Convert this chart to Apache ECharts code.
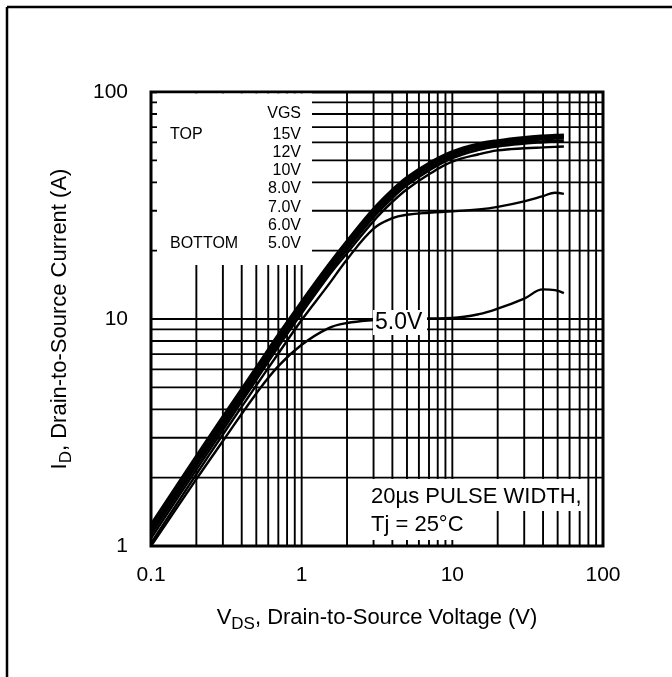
<!DOCTYPE html>
<html>
<head>
<meta charset="utf-8">
<script src="https://cdn.jsdelivr.net/npm/echarts@6/dist/echarts.min.js"></script>
<style>
  html, body { margin: 0; padding: 0; background: #fff; }
  #chart { width: 672px; height: 677px; }
</style>
</head>
<body>
<div id="chart"></div>
<script>
// VDS sample points (V) shared by all curves
const vds = [0.1, 0.2, 0.3, 0.5, 0.7, 1, 1.5, 2, 3, 4, 5, 7, 10, 15, 20, 30, 40, 48, 55];
// ID (A) per VGS
const id15 = [1.24, 2.48, 3.7, 6.1, 8.5, 11.9, 17.2, 22.0, 30.5, 37.0, 42.0, 48.5, 54.5, 59.0, 61.0, 63.0, 64.0, 64.4, 64.6];
const id12 = [1.21, 2.42, 3.6, 5.95, 8.3, 11.6, 16.9, 21.5, 29.8, 36.2, 41.1, 47.7, 53.6, 58.2, 60.2, 62.2, 63.2, 63.6, 63.8];
const id10 = [1.17, 2.35, 3.50, 5.8, 8.1, 11.4, 16.6, 21.0, 29.1, 35.4, 40.2, 46.8, 52.7, 57.3, 59.3, 61.2, 62.2, 62.6, 62.8];
const id8  = [1.13, 2.27, 3.38, 5.6, 7.85, 11.0, 16.0, 20.3, 28.2, 34.3, 39.0, 45.3, 51.3, 55.8, 57.8, 59.5, 60.3, 60.7, 61.0];
const id7  = [1.08, 2.17, 3.24, 5.4, 7.55, 10.6, 15.4, 19.5, 27.0, 32.8, 37.3, 43.4, 49.3, 53.2, 55.3, 56.5, 57.0, 57.3, 57.5];
const id6  = [1.03, 2.07, 3.10, 5.1, 7.05, 9.9, 14.1, 18.3, 25.0, 27.8, 28.8, 29.4, 29.8, 30.4, 31.2, 33.0, 34.8, 36.0, 35.6];
const id5  = [1.00, 1.97, 2.90, 4.7, 6.2, 7.7, 9.1, 9.6, 9.9, 10.0, 10.0, 10.05, 10.1, 10.5, 11.1, 12.3, 13.5, 13.4, 13.0];

// grid lines
const xGrid = [0.2, 0.3, 0.4, 0.5, 0.6, 0.7, 0.8, 0.9, 1, 2, 3, 4, 5, 6, 7, 8, 9, 10, 20, 30, 40, 50, 60, 70, 80, 90];
const yGrid = [2, 3, 4, 5, 6, 7, 8, 9, 10, 20, 30, 40, 50, 60, 70, 80, 90];

// tick labels
const xTickLabels = ['0.1', '1', '10', '100'];
const yTickLabels = ['1', '10', '100'];

// legend texts
const vgsLabels = ['15V', '12V', '10V', '8.0V', '7.0V', '6.0V', '5.0V'];

const font = "'Liberation Sans', Arial, sans-serif";
const chart = echarts.init(document.getElementById('chart'));

const curves = [id15, id12, id10, id8, id7, id6, id5];
const curveSeries = curves.map((arr, k) => ({
  type: 'line',
  data: vds.map((x, i) => [x, arr[i]]),
  smooth: 0.4,
  showSymbol: false,
  silent: true,
  z: 5,
  lineStyle: { color: '#000', width: k < 4 ? 3.2 : 2.4 }
}));

const vgsY = [135, 153, 171, 189, 208, 226, 244];
const legendTexts = vgsLabels.map((t, i) => ({
  type: 'text', z: 8, x: 301, y: vgsY[i],
  style: { text: t, font: '16px ' + font, fill: '#000', textAlign: 'right', textVerticalAlign: 'middle' }
}));

chart.setOption({
  animation: false,
  backgroundColor: '#fff',
  grid: { left: 151, top: 92, width: 452, height: 454, show: true, borderColor: '#000', borderWidth: 3, backgroundColor: 'transparent' },
  xAxis: {
    type: 'log', logBase: 10, min: 0.1, max: 100,
    axisLine: { show: false }, axisTick: { show: false }, splitLine: { show: false },
    axisLabel: {
      fontSize: 21, color: '#000', fontFamily: font, margin: 19, showMinLabel: true, showMaxLabel: true,
      formatter: v => xTickLabels[Math.round(Math.log10(v)) + 1]
    },
    name: '{n|V}{s|DS}{n|, Drain-to-Source Voltage (V)}',
    nameLocation: 'middle', nameGap: 56,
    nameTextStyle: {
      rich: {
        n: { fontSize: 22, fontFamily: font, color: '#000' },
        s: { fontSize: 17, fontFamily: font, color: '#000', padding: [14, 0, 0, 0] }
      }
    }
  },
  yAxis: {
    type: 'log', logBase: 10, min: 1, max: 100,
    axisLine: { show: false }, axisTick: { show: false }, splitLine: { show: false },
    axisLabel: {
      fontSize: 21, color: '#000', fontFamily: font, margin: 23, showMinLabel: true, showMaxLabel: true,
      formatter: v => yTickLabels[Math.round(Math.log10(v))]
    },
    name: '{n|I}{s|D}{n|, Drain-to-Source Current (A)}',
    nameLocation: 'middle', nameGap: 76, nameRotate: 90,
    nameTextStyle: {
      rich: {
        n: { fontSize: 22, fontFamily: font, color: '#000' },
        s: { fontSize: 17, fontFamily: font, color: '#000', padding: [14, 0, 0, 0] }
      }
    }
  },
  graphic: [
    // outer frame
    { type: 'line', z: 10, shape: { x1: 7, y1: 7, x2: 672, y2: 7 }, style: { stroke: '#000', lineWidth: 2.5 } },
    { type: 'line', z: 10, shape: { x1: 7, y1: 7, x2: 7, y2: 677 }, style: { stroke: '#000', lineWidth: 2.5 } },
    // white boxes behind texts
    { type: 'rect', z: 6, shape: { x: 157, y: 93.5, width: 155, height: 171.5 }, style: { fill: '#fff' } },
    { type: 'rect', z: 6, shape: { x: 369, y: 479, width: 213, height: 32 }, style: { fill: '#fff' } },
    { type: 'rect', z: 6, shape: { x: 369, y: 511, width: 94, height: 29 }, style: { fill: '#fff' } },
    { type: 'rect', z: 6, shape: { x: 373, y: 310, width: 54, height: 25 }, style: { fill: '#fff' } },
    // legend
    { type: 'text', z: 8, x: 301, y: 114, style: { text: 'VGS', font: '16px ' + font, fill: '#000', textAlign: 'right', textVerticalAlign: 'middle' } },
    { type: 'text', z: 8, x: 170, y: 135, style: { text: 'TOP', font: '16px ' + font, fill: '#000', textAlign: 'left', textVerticalAlign: 'middle' } },
    { type: 'text', z: 8, x: 170, y: 244, style: { text: 'BOTTOM', font: '16px ' + font, fill: '#000', textAlign: 'left', textVerticalAlign: 'middle' } },
    ...legendTexts,
    // annotations
    { type: 'text', z: 8, x: 375, y: 323, style: { text: '5.0V', font: '23px ' + font, fill: '#000', textAlign: 'left', textVerticalAlign: 'middle' } },
    { type: 'text', z: 8, x: 371, y: 497, style: { text: '20µs PULSE WIDTH,', font: '22px ' + font, fill: '#000', textAlign: 'left', textVerticalAlign: 'middle' } },
    { type: 'text', z: 8, x: 371, y: 525, style: { text: 'Tj = 25°C', font: '22px ' + font, fill: '#000', textAlign: 'left', textVerticalAlign: 'middle' } }
  ],
  series: [
    {
      type: 'custom', z: 1, silent: true,
      data: xGrid.map(v => [v, 1]),
      renderItem: (params, api) => {
        const v = api.value(0);
        const a = api.coord([v, 1]);
        const b = api.coord([v, 100]);
        return { type: 'line', shape: { x1: a[0], y1: a[1], x2: b[0], y2: b[1] }, style: { stroke: '#000', lineWidth: 1.9 } };
      }
    },
    {
      type: 'custom', z: 1, silent: true,
      data: yGrid.map(v => [0.1, v]),
      renderItem: (params, api) => {
        const v = api.value(1);
        const a = api.coord([0.1, v]);
        const b = api.coord([100, v]);
        return { type: 'line', shape: { x1: a[0], y1: a[1], x2: b[0], y2: b[1] }, style: { stroke: '#000', lineWidth: 1.9 } };
      }
    },
    ...curveSeries
  ]
});
</script>
</body>
</html>
